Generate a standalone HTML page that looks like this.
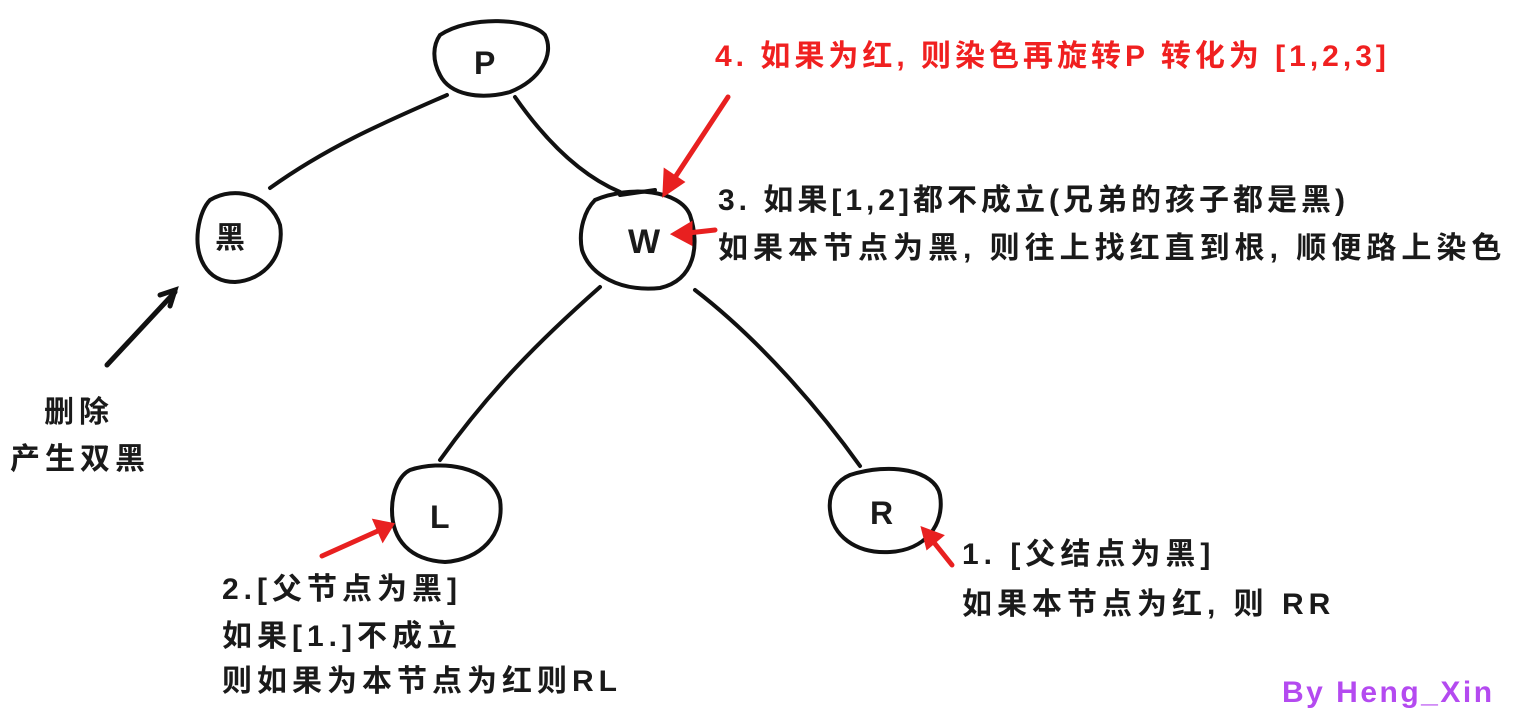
<!DOCTYPE html>
<html><head><meta charset="utf-8"><style>
html,body{margin:0;padding:0;background:#fff;width:1514px;height:722px;overflow:hidden}
svg{position:absolute;left:0;top:0}
.t{position:absolute;font-family:"Liberation Sans","Noto Sans CJK SC",sans-serif;font-size:30px;font-weight:bold;color:#1a1a1a;white-space:nowrap;line-height:34px;letter-spacing:5px}
</style></head><body>
<svg width="1514" height="722" viewBox="0 0 1514 722">
<g fill="none" stroke="#111" stroke-width="4" stroke-linecap="round">
<path d="M440 35 C470 15 530 18 545 35 C555 55 540 80 510 92 C480 100 450 95 440 75 C432 60 433 45 440 35 Z"/>
<path d="M210 200 C235 185 270 195 280 225 C285 255 265 280 235 282 C205 282 195 255 198 230 C200 215 205 205 210 200"/>
<path d="M595 200 C630 185 680 190 690 215 C700 245 695 280 660 288 C620 292 590 275 582 250 C578 230 585 210 595 200"/>
<path d="M620 195 L655 190"/>
<path d="M410 470 C440 460 490 465 500 500 C505 535 480 560 445 562 C410 560 392 540 392 510 C392 490 400 475 410 470"/>
<path d="M850 475 C890 462 935 470 940 495 C945 525 925 550 890 552 C855 554 832 535 830 510 C828 492 838 480 850 475"/>
<path d="M447 95 C390 120 330 145 270 188"/>
<path d="M515 97 C545 140 580 175 620 192"/>
<path d="M600 287 C540 340 490 390 440 460"/>
<path d="M695 290 C760 340 820 410 860 466"/>
<path d="M107 365 L175 292" stroke-width="5"/>
<path d="M160 295 L175 290 L170 306" stroke-width="5"/>
</g>
<g stroke="#e82020" stroke-width="5" fill="#e82020" stroke-linecap="round">
<line x1="728" y1="97" x2="672" y2="182"/><polygon points="665,193 666,172 681,182"/>
<line x1="715" y1="230" x2="688" y2="233"/><polygon points="675,234 690,225 690,242"/>
<line x1="322" y1="556" x2="380" y2="530"/><polygon points="391,525 376,522 383,538"/>
<line x1="952" y1="565" x2="932" y2="540"/><polygon points="924,530 940,536 928,546"/>
</g>
</svg>
<div class="t" style="left:474px;top:46px;font-size:32px">P</div>
<div class="t" style="left:215px;top:222px">黑</div>
<div class="t" style="left:628px;top:225px;font-size:34px">W</div>
<div class="t" style="left:430px;top:500px;font-size:32px">L</div>
<div class="t" style="left:870px;top:496px;font-size:32px">R</div>
<div class="t" style="left:715px;top:40px;color:#f02020;letter-spacing:4px">4. 如果为红, 则染色再旋转P 转化为 [1,2,3]</div>
<div class="t" style="left:718px;top:184px;letter-spacing:4px">3. 如果[1,2]都不成立(兄弟的孩子都是黑)</div>
<div class="t" style="left:718px;top:232px">如果本节点为黑, 则往上找红直到根, 顺便路上染色</div>
<div class="t" style="left:44px;top:396px">删除</div>
<div class="t" style="left:10px;top:443px">产生双黑</div>
<div class="t" style="left:222px;top:573px">2.[父节点为黑]</div>
<div class="t" style="left:222px;top:620px">如果[1.]不成立</div>
<div class="t" style="left:222px;top:665px">则如果为本节点为红则RL</div>
<div class="t" style="left:962px;top:538px">1. [父结点为黑]</div>
<div class="t" style="left:962px;top:588px">如果本节点为红, 则 RR</div>
<div class="t" style="left:1282px;top:676px;color:#b44af0;font-size:30px;letter-spacing:2.5px">By Heng_Xin</div>
</body></html>
